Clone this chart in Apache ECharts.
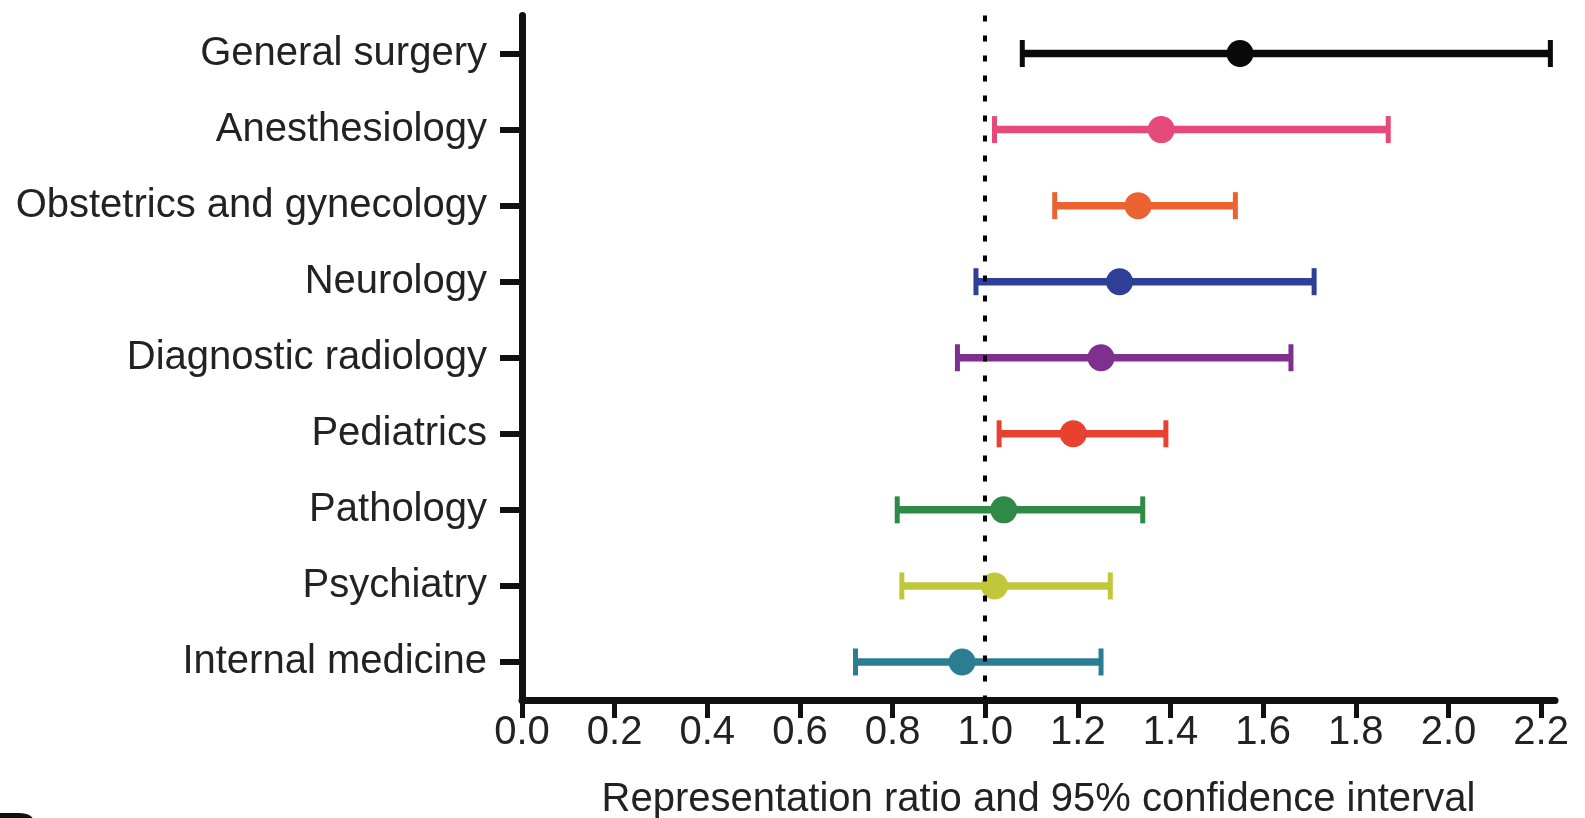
<!DOCTYPE html>
<html>
<head>
<meta charset="utf-8">
<script src="https://cdn.jsdelivr.net/npm/echarts@6/dist/echarts.min.js"></script>
<style>
html,body{margin:0;padding:0;background:#fff;}
#chart{width:1585px;height:818px;}
</style>
</head>
<body>
<div id="chart"></div>
<script>
const categories = ['General surgery','Anesthesiology','Obstetrics and gynecology','Neurology','Diagnostic radiology','Pediatrics','Pathology','Psychiatry','Internal medicine'];
const lowValues   = [1.08, 1.02, 1.15, 0.98, 0.94, 1.03, 0.81, 0.82, 0.72];
const pointValues = [1.55, 1.38, 1.33, 1.29, 1.25, 1.19, 1.04, 1.02, 0.95];
const highValues  = [2.22, 1.87, 1.54, 1.71, 1.66, 1.39, 1.34, 1.27, 1.25];
const xTicks = [0.0, 0.2, 0.4, 0.6, 0.8, 1.0, 1.2, 1.4, 1.6, 1.8, 2.0, 2.2];
const referenceValue = 1.0;
const xAxisTitle = 'Representation ratio and 95% confidence interval';
const panelLabel = 'B';
const colors = ['#0a0a0a','#e64a7a','#ea6330','#2f3e96','#7f2f8d','#e8412f','#2e8a46','#c1c73a','#2b7e92'];

const chart = echarts.init(document.getElementById('chart'));
const font = "'Liberation Sans', Arial, sans-serif";

const option = {
  animation: false,
  backgroundColor: '#fff',
  grid: { left: 522, right: 30, top: 15.5, bottom: 118, containLabel: false, outerBoundsMode: 'none' },
  xAxis: {
    type: 'value', min: 0, max: 2.23,
    name: xAxisTitle, nameLocation: 'middle', nameGap: 80,
    nameTextStyle: { fontFamily: font, fontSize: 40, color: '#222' },
    axisLine: { show: true, lineStyle: { color: '#111', width: 7 } },
    axisTick: { show: true, customValues: xTicks, length: 18, lineStyle: { color: '#111', width: 5 } },
    axisLabel: { customValues: xTicks, margin: 13, fontFamily: font, fontSize: 40, color: '#222',
      formatter: v => Number(v).toFixed(1) },
    splitLine: { show: false }
  },
  yAxis: {
    type: 'category', data: categories, inverse: true,
    axisLine: { show: true, lineStyle: { color: '#111', width: 7 } },
    axisTick: { show: true, alignWithLabel: true, length: 22, lineStyle: { color: '#111', width: 6 } },
    axisLabel: { margin: 35, fontFamily: font, fontSize: 40, color: '#222', padding: [0,0,10,0] },
    splitLine: { show: false }
  },
  graphic: [{
    type: 'text', left: -4, top: 807, z: 10,
    style: { text: panelLabel, fontFamily: font, fontSize: 60, fontWeight: 'bold', fill: '#111' }
  }],
  series: [
    {
      type: 'line', data: [], z: 1, silent: true,
      markLine: {
        symbol: 'none', silent: true, label: { show: false },
        lineStyle: { type: [6, 14], width: 4, color: '#000' },
        data: [{ xAxis: referenceValue }]
      }
    },
    {
      type: 'custom', z: 2,
      data: categories.map((c, i) => [i, lowValues[i], highValues[i]]),
      encode: { x: [1, 2], y: 0 },
      renderItem: function (params, api) {
        const idx = api.value(0);
        const p1 = api.coord([api.value(1), idx]);
        const p2 = api.coord([api.value(2), idx]);
        const c = colors[idx];
        const half = 13.5;
        return {
          type: 'group',
          children: [
            { type: 'line', shape: { x1: p1[0], y1: p1[1], x2: p2[0], y2: p2[1] }, style: { stroke: c, lineWidth: 7.5 } },
            { type: 'line', shape: { x1: p1[0], y1: p1[1] - half, x2: p1[0], y2: p1[1] + half }, style: { stroke: c, lineWidth: 5 } },
            { type: 'line', shape: { x1: p2[0], y1: p2[1] - half, x2: p2[0], y2: p2[1] + half }, style: { stroke: c, lineWidth: 5 } }
          ]
        };
      }
    },
    {
      type: 'scatter', z: 3,
      symbol: 'circle', symbolSize: 27,
      data: pointValues.map((v, i) => [v, i]),
      itemStyle: { opacity: 1, color: p => colors[p.dataIndex] }
    }
  ]
};
chart.setOption(option);
</script>
</body>
</html>
